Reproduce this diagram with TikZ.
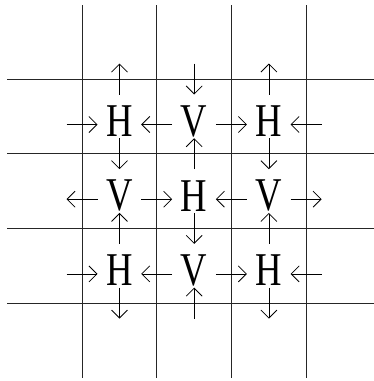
\documentclass[tikz,border=0pt]{standalone}
\usepackage{fontspec}
\setmainfont{Liberation Serif}
\usepackage{graphicx}
\usetikzlibrary{arrows.meta}
\tikzset{
  gridln/.style ={line width=0.9pt, black!85},
  flip/.style   ={-{Straight Barb[length=8pt,width=16pt]}, line width=0.8pt},
  spin/.style   ={inner sep=0pt, font=\fontsize{47}{47}\selectfont},
}
\newcommand{\narrowch}[1]{\scalebox{0.78}[1]{#1}}

\begin{document}
\begin{tikzpicture}[x=1pt,y=-1pt]
  \useasboundingbox (0,0) rectangle (374,381);
  % ---- grid lines
  \foreach \i in {0,...,3} {
    \draw[gridln] (82+74.7*\i,5) -- (82+74.7*\i,378);
    \draw[gridln] (7,79+74.7*\i) -- (374,79+74.7*\i);
  }
  % ---- letters: H where row+col is even, V elsewhere
  \foreach \r in {1,2,3}
    \foreach \c in {1,2,3} {
      \pgfmathtruncatemacro\kind{mod(\r+\c,2)}
      \node[spin] (s\r\c) at (119.5+74.7*\c-74.7,121+74.7*\r-74.7)
        {\ifnum\kind=0 \narrowch{H}\else\narrowch{V}\fi};
    }
  % ---- horizontal arrows point into an H
  \foreach \r in {1,2,3}
    \foreach \k in {0,...,3} {
      \pgfmathsetmacro\xe{82+74.7*\k}
      \pgfmathsetmacro\ye{124.5+74.7*(\r-1)}
      \pgfmathtruncatemacro\kind{mod(\r+\k+1,2)}
      \ifnum\kind=0
        \draw[flip] (\xe-15.5,\ye) -- (\xe+15.5,\ye);
      \else
        \draw[flip] (\xe+15.5,\ye) -- (\xe-15.5,\ye);
      \fi
    }
  % ---- vertical arrows point into a V
  \foreach \c in {1,2,3}
    \foreach \k in {0,...,3} {
      \pgfmathsetmacro\xe{119.5+74.7*(\c-1)}
      \pgfmathsetmacro\ye{79+74.7*\k}
      \pgfmathtruncatemacro\kind{mod(\k+\c,2)}
      \ifnum\kind=1
        \draw[flip] (\xe,\ye+15.5) -- (\xe,\ye-15.5);
      \else
        \draw[flip] (\xe,\ye-15.5) -- (\xe,\ye+15.5);
      \fi
    }
\end{tikzpicture}
\end{document}
